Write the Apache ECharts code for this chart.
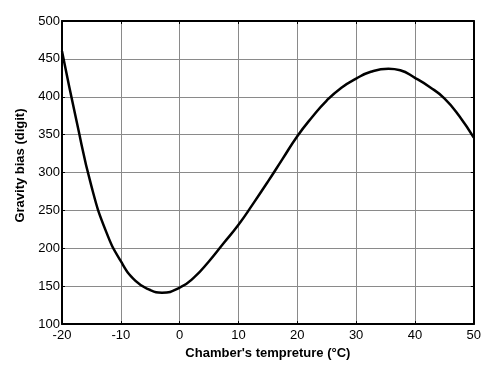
<!DOCTYPE html>
<html>
<head>
<meta charset="utf-8">
<script src="https://cdn.jsdelivr.net/npm/echarts@6/dist/echarts.min.js"></script>
<style>
  html, body { margin: 0; padding: 0; background: #fff; }
  #chart { width: 484px; height: 365px; }
</style>
</head>
<body>
<div id="chart"></div>
<script>
// chamber temperature (°C) and gravity bias (digit)
const tempC = [-20, -17.5, -15, -12.5, -10, -7.5, -5, -3, 0, 2.5, 5, 7.5, 10, 12.5, 15, 17.5, 20, 22.5, 25, 27.5, 30, 32.5, 35.5, 37.5, 40, 42.5, 45, 47.5, 50];
const biasDigit = [460, 367, 282, 222, 183, 157, 145, 141.5, 148, 162, 183, 207, 231, 259, 288, 318, 348, 373, 395, 412, 424, 433, 437, 435, 425, 413, 398, 375, 346];

const xTicks = [-20, -10, 0, 10, 20, 30, 40, 50];
const yTicks = [100, 150, 200, 250, 300, 350, 400, 450, 500];

const font = 'Liberation Sans';
const points = tempC.map((t, i) => [t, biasDigit[i]]);

const xBase = {
  type: 'value',
  min: xTicks[0],
  max: xTicks[xTicks.length - 1],
  interval: 10,
  axisLine: { onZero: false, lineStyle: { color: '#000', width: 2 } },
  axisTick: { inside: true, length: 3, lineStyle: { color: '#000', width: 1 } }
};
const yBase = {
  type: 'value',
  min: yTicks[0],
  max: yTicks[yTicks.length - 1],
  interval: 50,
  axisLine: { onZero: false, lineStyle: { color: '#000', width: 2 } },
  axisTick: { inside: true, length: 3, lineStyle: { color: '#000', width: 1 } }
};

const option = {
  animation: false,
  backgroundColor: '#fff',
  grid: { left: 62, right: 7, top: 21, bottom: 35, containLabel: false },
  xAxis: [
    Object.assign({}, xBase, {
      position: 'bottom',
      name: "Chamber's tempreture (°C)",
      nameLocation: 'middle',
      nameGap: 21,
      nameTextStyle: { fontFamily: font, fontSize: 13, fontWeight: 'bold', color: '#000' },
      axisLabel: { fontFamily: font, fontSize: 13, color: '#000', margin: 5 },
      splitLine: { show: true, lineStyle: { color: '#8a8a8a', width: 1 } }
    }),
    Object.assign({}, xBase, {
      position: 'top',
      axisLabel: { show: false },
      splitLine: { show: false }
    })
  ],
  yAxis: [
    Object.assign({}, yBase, {
      position: 'left',
      name: 'Gravity bias (digit)',
      nameLocation: 'middle',
      nameGap: 35,
      nameTextStyle: { fontFamily: font, fontSize: 13, fontWeight: 'bold', color: '#000', padding: [0, 0, 0, 14] },
      axisLabel: { fontFamily: font, fontSize: 13, color: '#000', margin: 2 },
      splitLine: { show: true, lineStyle: { color: '#8a8a8a', width: 1 } }
    }),
    Object.assign({}, yBase, {
      position: 'right',
      axisLabel: { show: false },
      splitLine: { show: false }
    })
  ],
  series: [
    {
      type: 'line',
      xAxisIndex: 0,
      yAxisIndex: 0,
      data: points,
      smooth: 0.5,
      showSymbol: false,
      lineStyle: { color: '#000', width: 2.5 },
      z: 5
    }
  ]
};

const chart = echarts.init(document.getElementById('chart'));
chart.setOption(option);
</script>
</body>
</html>
